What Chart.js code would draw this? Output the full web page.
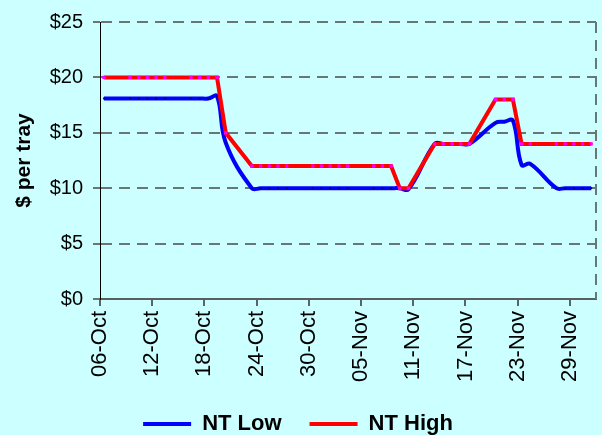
<!DOCTYPE html>
<html>
<head>
<meta charset="utf-8">
<script src="https://cdn.jsdelivr.net/npm/chart.js@4/dist/chart.umd.min.js"></script>
<style>
  html, body { margin: 0; padding: 0; background: #CCFFFF; }
</style>
</head>
<body>
<canvas id="trayChart" width="602" height="435"></canvas>
<script>
// trading days, counted in days after 06-Oct (weekends skipped)
const tradeDays = [0, 3, 4, 5, 6, 7, 10, 11, 12, 13, 14, 17, 18, 19, 20, 21,
  24, 25, 26, 27, 28, 31, 32, 33, 34, 35, 38, 39, 40, 41, 42,
  45, 46, 47, 48, 49, 52, 53, 54, 55, 56];

// $ per tray
const ntLow = [18.1, 18.1, 18.1, 18.1, 18.1, 18.1, 18.1, 18.1, 18.1, 18.3, 14.1,
  10, 10, 10, 10, 10, 10, 10, 10, 10, 10, 10, 10, 10, 10, 9.9,
  14, 14, 14, 14, 14, 15.9, 16.0, 16.1, 12.1, 12.2, 10, 10, 10, 10, 10];
const ntHigh = [20, 20, 20, 20, 20, 20, 20, 20, 20, 20, 15,
  12, 12, 12, 12, 12, 12, 12, 12, 12, 12, 12, 12, 12, 10, 10,
  14, 14, 14, 14, 14, 18, 18, 18, 14, 14, 14, 14, 14, 14, 14];

// x axis ticks (day offsets) and their labels
const tickDays = [0, 6, 12, 18, 24, 30, 36, 42, 48, 54];
const tickLabels = ['06-Oct', '12-Oct', '18-Oct', '24-Oct', '30-Oct',
  '05-Nov', '11-Nov', '17-Nov', '23-Nov', '29-Nov'];
const lastDay = 57;

const fontFamily = "'Liberation Sans', Arial, sans-serif";
const gridGray = '#687676';
const gridDash = [11, 7];

Chart.defaults.font.family = fontFamily;
Chart.defaults.color = '#000';

// points sit in the middle of their day
function toPoints(values) {
  return tradeDays.map((d, i) => ({ x: d + 0.45, y: values[i] }));
}

// dashed frame line on the right side of the plot area
const rightFrame = {
  id: 'rightFrame',
  beforeDatasetsDraw(chart) {
    const { ctx, chartArea } = chart;
    ctx.save();
    ctx.strokeStyle = gridGray;
    ctx.lineWidth = 2;
    ctx.setLineDash(gridDash);
    ctx.beginPath();
    ctx.moveTo(chartArea.right, chartArea.top);
    ctx.lineTo(chartArea.right, chartArea.bottom);
    ctx.stroke();
    ctx.restore();
  }
};

const ctx = document.getElementById('trayChart').getContext('2d');
new Chart(ctx, {
  type: 'line',
  data: {
    datasets: [
      {
        label: 'NT Low',
        data: toPoints(ntLow),
        borderColor: '#0000FF',
        backgroundColor: '#0000FF',
        borderWidth: 4,
        tension: 0.4,
        pointStyle: 'rect',
        pointRadius: 1.3,
        pointBorderWidth: 0,
        pointBackgroundColor: '#000080',
        order: 1
      },
      {
        label: 'NT High',
        data: toPoints(ntHigh),
        borderColor: '#FF0000',
        backgroundColor: '#FF0000',
        borderWidth: 4,
        tension: 0,
        pointStyle: 'rect',
        pointRadius: 2.3,
        pointBorderWidth: 0,
        pointBackgroundColor: '#FF00FF',
        order: 0
      }
    ]
  },
  plugins: [rightFrame],
  options: {
    responsive: false,
    animation: false,
    devicePixelRatio: 1,
    // negative bottom padding pulls the legend down to the canvas edge
    layout: { padding: { top: 17, right: 6, left: 0, bottom: -10 } },
    plugins: {
      tooltip: { enabled: false },
      legend: {
        position: 'bottom',
        labels: {
          boxWidth: 48,
          boxHeight: 4,
          padding: 28,
          color: '#000',
          font: { size: 22, weight: 'bold' },
          sort: (a, b) => a.datasetIndex - b.datasetIndex,
          generateLabels: (chart) =>
            Chart.defaults.plugins.legend.labels.generateLabels(chart)
              .map(item => ({ ...item, lineWidth: 0 }))
        }
      }
    },
    scales: {
      x: {
        type: 'linear',
        min: 0,
        max: lastDay,
        afterBuildTicks: (scale) => {
          scale.ticks = tickDays.map(v => ({ value: v }));
        },
        afterFit: (scale) => { scale.height = 86; },
        ticks: {
          autoSkip: false,
          minRotation: 90,
          maxRotation: 90,
          padding: 5,
          font: { size: 22, lineHeight: 1 },
          callback: (value) => tickLabels[tickDays.indexOf(value)]
        },
        grid: {
          drawOnChartArea: false,
          lineWidth: 2,
          tickLength: 7,
          tickWidth: 1.5,
          tickColor: '#333'
        },
        border: { display: true, color: '#56605f', width: 2 }
      },
      y: {
        min: 0,
        max: 25,
        afterFit: (scale) => { scale.width = 100; },
        ticks: {
          stepSize: 5,
          padding: 10,
          font: { size: 20 },
          callback: (value) => '$' + value
        },
        grid: {
          color: gridGray,
          lineWidth: 2,
          tickLength: 7,
          tickWidth: 2,
          tickColor: gridGray
        },
        border: { display: true, color: '#000', width: 1, dash: gridDash },
        title: {
          display: true,
          text: '$ per tray',
          font: { size: 21, weight: 'bold' },
          padding: { top: 12, bottom: 0 }
        }
      }
    }
  }
});
</script>
</body>
</html>
